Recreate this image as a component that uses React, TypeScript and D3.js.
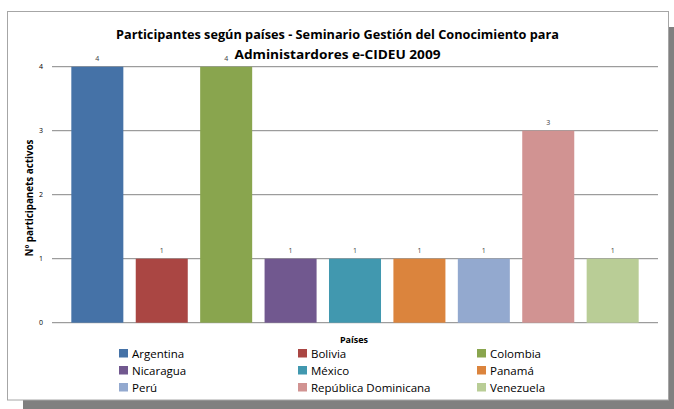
import React from "react";
import * as d3 from "d3";

const countries = ["Argentina", "Bolivia", "Colombia", "Nicaragua", "México", "Panamá", "Perú", "República Dominicana", "Venezuela"];
const values = [4, 1, 4, 1, 1, 1, 1, 3, 1];
const colors = ["#4572A7", "#AA4643", "#89A54E", "#71588F", "#4198AF", "#DB843D", "#93A9CF", "#D19392", "#B9CD96"];
const yTicks = [0, 1, 2, 3, 4];
const titleLines = ["Participantes según países - Seminario Gestión del Conocimiento para", "Administardores e-CIDEU 2009"];
const yTitle = "Nº participanets activos";
const xTitle = "Países";

const W = 674, H = 409;
const font = "'Open Sans', 'Liberation Sans', sans-serif";

export default function App() {
  const plotL = 52, plotR = 658, plotT = 66.7, plotB = 322.7;
  const x = d3.scaleBand<string>().domain(countries).range([plotL, plotR]).paddingInner(0.1925).paddingOuter(0.3);
  const y = d3.scaleLinear().domain([0, 4]).range([plotB, plotT]);
  const legendCols = [119, 298, 477];
  const legendRows = [349, 366, 383];
  return (
    <svg width={W} height={H} style={{ position: "absolute", left: 0, top: 0, display: "block" }}>
      <rect x={0} y={0} width={W} height={H} fill="#ffffff" />
      <rect x={23} y={27} width={W} height={H} fill="#808080" />
      <rect x={7.5} y={11.5} width={661} height={388.5} fill="#ffffff" stroke="#a6a6a6" strokeWidth={1} />
      {titleLines.map((t, i) => (
        <text key={i} x={337.5} y={38.5 + i * 20} textAnchor="middle" fontFamily={font} fontWeight="bold" fontSize={12.5} fill="#000"
          textLength={i === 0 ? 443 : 206} lengthAdjust="spacingAndGlyphs">{t}</text>
      ))}
      {yTicks.map((t) => (
        <g key={t}>
          <line x1={plotL} x2={plotR} y1={y(t)} y2={y(t)} stroke="#868686" strokeWidth={1} />
          <text x={43} y={y(t) + 2.5} textAnchor="end" fontFamily={font} fontSize={7} fill="#000">{t}</text>
        </g>
      ))}
      {countries.map((c, i) => (
        <g key={c}>
          <rect x={x(c)} y={y(values[i])} width={x.bandwidth()} height={plotB - y(values[i])} fill={colors[i]} />
          <text x={(x(c) ?? 0) + x.bandwidth() / 2} y={y(values[i]) - 6} textAnchor="middle" fontFamily={font} fontSize={7} fill="#404040">{values[i]}</text>
        </g>
      ))}
      <text transform={`translate(32.5, 198) rotate(-90)`} textAnchor="middle" fontFamily={font} fontWeight="bold" fontSize={10} fill="#000"
        textLength={117} lengthAdjust="spacingAndGlyphs">{yTitle}</text>
      <text x={354} y={343} textAnchor="middle" fontFamily={font} fontWeight="bold" fontSize={9} fill="#000">{xTitle}</text>
      {countries.map((c, i) => {
        const col = i % 3, row = Math.floor(i / 3);
        return (
          <g key={"l" + c}>
            <rect x={legendCols[col]} y={legendRows[row]} width={9} height={8.5} fill={colors[i]} />
            <text x={legendCols[col] + 13} y={legendRows[row] + 9} fontFamily={font} fontSize={11.5} fill="#000">{c}</text>
          </g>
        );
      })}
    </svg>
  );
}
